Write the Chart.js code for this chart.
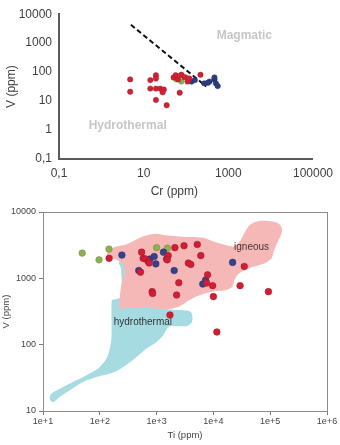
<!DOCTYPE html>
<html>
<head>
<meta charset="utf-8">
<script src="https://cdn.jsdelivr.net/npm/chart.js@4.4.0/dist/chart.umd.min.js"></script>
<style>
body { margin:0; background:#fff; width:340px; height:445px; overflow:hidden; }
canvas { display:block; }
</style>
</head>
<body>
<canvas id="top" width="340" height="200"></canvas>
<canvas id="bottom" width="340" height="245"></canvas>
<script>
// ---- top chart: Cr vs V ----
var crRed = [4.8, 4.8, 14.4, 14.4, 19.5, 19.5, 19.5, 24.5, 30, 28, 19.5, 35, 71, 220, 51, 57, 78, 92, 109, 120, 65]
var vRedTop = [56, 21, 53, 27, 78, 60, 27, 27, 25, 20, 11, 7.2, 19.5, 81, 65, 78, 81, 67, 47, 60, 56]
var crGreen = [59, 78, 100, 70]
var vGreenTop = [56, 47, 65, 75]
var crBlue = [135, 162, 270, 360, 470, 510, 560, 470, 330]
var vBlueTop = [47, 53, 41, 47, 56, 41, 33, 65, 43]
var dashCr = [5, 300]
var dashV = [4300, 32]
var crTicks = [0.1, 10, 1000, 100000]
var vTicksTop = [0.1, 1, 10, 100, 1000, 10000]

// ---- bottom chart: Ti vs V ----
var tiRed = [146, 545, 580, 645, 710, 740, 520, 1600, 1540, 2100, 3040, 5200, 6000, 3620, 4000, 2460, 835, 850, 2250, 7900, 7600, 9700, 10000, 29500, 35000, 93000, 1720, 11500]
var vRed = [2000, 2480, 2000, 1950, 1790, 1700, 1240, 2200, 1900, 2900, 3100, 3240, 2200, 1700, 1620, 860, 630, 590, 560, 1130, 850, 775, 530, 775, 1510, 630, 280, 155]
var tiBlue = [245, 485, 760, 905, 970, 1320, 1500, 2040, 6500, 7300, 21800]
var vBlue = [2240, 1310, 1950, 2130, 1650, 2480, 1950, 1310, 820, 945, 1740]
var tiGreen = [49, 145, 97, 1000, 1550]
var vGreen = [2400, 2760, 1900, 2900, 2850]
var igneousTi = [138,169,225,299,398,508,674,972,1460,2910,5140,7110,9840,13600,18100,23100,29400,36100,44200,61200,99600,143000,162000,150000,132000,115000,106000,88200,69200,49900,36100,28300,24000,21300,16700,11600,8710,6560,4740,3560,2570,1720,1140,762,508,338,225,225,239,276,255,200,150,133,138]
var igneousV = [2510,2880,3090,3260,3680,4090,4460,4700,4460,4230,4160,4020,3620,3310,3090,3040,3620,5040,6420,7260,7260,6650,5400,4230,3370,2510,2000,1770,1620,1490,1340,1190,980,741,668,645,623,581,523,455,382,344,344,363,369,369,351,505,794,1250,1600,1900,2040,2260,2510]
var hydroTi = [163,234,244,234,216,265,338,367,431,762,1400,2100,3380,4140,4190,3420,1940,1580,1310,1000,667,444,316,184,87.5,50.7,29.6,19.7,15,13.1,14.1,19.7,33.8,58.2,93.3,131,150,161,161,161,163]
var hydroV = [471,523,794,1440,1770,1830,1540,794,440,382,344,333,327,300,219,191,191,182,139,110,87.7,65.3,52,38.7,32.6,27.4,20.5,16.2,13.6,15.3,18.3,21.7,27.4,34.6,43.6,61.8,87.7,131,264,420,471]
var tiTicks = [10, 100, 1000, 10000, 100000, 1000000]
var vTicks = [10, 100, 1000, 10000]

var FONT = "'Liberation Sans', Arial, sans-serif"

function pairs(xs, ys){
	return xs.map(function(x, i){ return {x: x, y: ys[i]} })
}
function setTicks(list){
	return function(scale){ scale.ticks = list.map(function(v){ return {value: v} }) }
}
function commaLabel(v){
	return v < 1 ? '0,1' : String(v)
}
function expLabel(v){
	return '1e+' + Math.round(Math.log10(v))
}

// labels placed in data units
function textPlugin(id, items){
	return {
		id: id,
		beforeDatasetsDraw: function(chart){
			var ctx = chart.ctx
			ctx.save()
			ctx.textAlign = 'center'
			ctx.textBaseline = 'middle'
			items.forEach(function(t){
				ctx.font = t.font
				ctx.fillStyle = t.color
				ctx.fillText(t.text, chart.scales.x.getPixelForValue(t.x), chart.scales.y.getPixelForValue(t.y))
			})
			ctx.restore()
		}
	}
}

var framePlugin = {
	id: 'frame',
	afterDraw: function(chart){
		var a = chart.chartArea, ctx = chart.ctx
		ctx.save()
		ctx.strokeStyle = '#8c8c8c'
		ctx.lineWidth = 1
		ctx.strokeRect(Math.round(a.left) + 0.5, Math.round(a.top) + 0.5, Math.round(a.right - a.left), Math.round(a.bottom - a.top))
		ctx.restore()
	}
}

new Chart(document.getElementById('top'), {
	type: 'scatter',
	data: {
		datasets: [
			{ data: pairs(crRed, vRedTop), backgroundColor: '#cf2233', borderColor: '#a91a2a', borderWidth: 0.5, pointRadius: 2.7 },
			{ data: pairs(crGreen, vGreenTop), backgroundColor: '#7fb257', borderColor: '#6a9a45', borderWidth: 0.5, pointRadius: 2.7 },
			{ data: pairs(crBlue, vBlueTop), backgroundColor: '#2c3d7e', borderColor: '#1f2d66', borderWidth: 0.5, pointRadius: 2.7 },
			{ data: pairs(dashCr, dashV), showLine: true, borderColor: '#111', borderWidth: 2, borderDash: [5, 3], pointRadius: 0 }
		]
	},
	options: {
		responsive: false,
		animation: false,
		events: [],
		layout: { padding: { top: 11, right: 22, left: 0, bottom: 0 } },
		plugins: { legend: { display: false }, tooltip: { enabled: false } },
		scales: {
			x: {
				type: 'logarithmic', min: 0.1, max: 100000,
				grid: { display: false, drawTicks: false },
				border: { display: true, color: '#5a5a5a', width: 2 },
				afterBuildTicks: setTicks(crTicks),
				afterFit: function(s){ s.height = 41 },
				ticks: { padding: 7, color: '#404040', font: { family: FONT, size: 12 }, maxRotation: 0, autoSkip: false, callback: commaLabel },
				title: { display: true, text: 'Cr (ppm)       ', color: '#404040', font: { family: FONT, size: 12 }, padding: { top: 0, bottom: 1 } }
			},
			y: {
				type: 'logarithmic', min: 0.1, max: 10000,
				grid: { display: false, drawTicks: false },
				border: { display: true, color: '#5a5a5a', width: 2 },
				afterBuildTicks: setTicks(vTicksTop),
				afterFit: function(s){ s.width = 59 },
				ticks: { padding: 7, color: '#404040', font: { family: FONT, size: 12 }, autoSkip: false, callback: commaLabel },
				title: { display: true, text: 'V (ppm)', color: '#404040', font: { family: FONT, size: 12 }, padding: { top: 4, bottom: 0 } }
			}
		}
	},
	plugins: [textPlugin('topText', [
		{ text: 'Magmatic', x: 2390, y: 1780, font: 'bold 12px ' + FONT, color: '#c6c6c6' },
		{ text: 'Hydrothermal', x: 4.2, y: 1.4, font: 'bold 12px ' + FONT, color: '#c6c6c6' }
	])]
})

new Chart(document.getElementById('bottom'), {
	type: 'scatter',
	data: {
		datasets: [
			{ data: pairs(tiRed, vRed), backgroundColor: '#d01f34', borderColor: '#a8182a', borderWidth: 0.6, pointRadius: 3.3 },
			{ data: pairs(tiBlue, vBlue), backgroundColor: '#36428c', borderColor: '#283270', borderWidth: 0.6, pointRadius: 3.3 },
			{ data: pairs(tiGreen, vGreen), backgroundColor: '#8fae52', borderColor: '#7a9842', borderWidth: 0.6, pointRadius: 3.3 },
			{ data: pairs(igneousTi, igneousV), showLine: true, fill: 'shape', backgroundColor: '#f5b8b6', borderWidth: 0, pointRadius: 0, tension: 0.3 },
			{ data: pairs(hydroTi, hydroV), showLine: true, fill: 'shape', backgroundColor: '#a7dbe2', borderWidth: 0, pointRadius: 0, tension: 0.3 }
		]
	},
	options: {
		responsive: false,
		animation: false,
		events: [],
		layout: { padding: { top: 12, right: 13, left: 0, bottom: 0 } },
		plugins: { legend: { display: false }, tooltip: { enabled: false }, filler: { drawTime: 'beforeDraw' } },
		scales: {
			x: {
				type: 'logarithmic', min: 10, max: 1000000,
				grid: { display: true, drawOnChartArea: false, drawTicks: true, tickLength: 4, color: '#7a7a7a' },
				border: { display: true, color: '#7a7a7a', width: 1 },
				afterBuildTicks: setTicks(tiTicks),
				afterFit: function(s){ s.height = 34 },
				ticks: { padding: 1, color: '#444', font: { family: FONT, size: 9 }, maxRotation: 0, autoSkip: false, callback: expLabel },
				title: { display: true, text: 'Ti (ppm)', color: '#444', font: { family: FONT, size: 9.5 }, padding: { top: 0, bottom: 4 } }
			},
			y: {
				type: 'logarithmic', min: 10, max: 10000,
				grid: { display: true, drawOnChartArea: false, drawTicks: true, tickLength: 4, color: '#7a7a7a' },
				border: { display: true, color: '#7a7a7a', width: 1 },
				afterBuildTicks: setTicks(vTicks),
				afterFit: function(s){ s.width = 43 },
				ticks: { padding: 3, color: '#444', font: { family: FONT, size: 9 }, autoSkip: false, callback: function(v){ return String(v) } },
				title: { display: true, text: 'V (ppm)', color: '#444', font: { family: FONT, size: 9.5 }, padding: { top: 1, bottom: 0 } }
			}
		}
	},
	plugins: [framePlugin, textPlugin('bottomText', [
		{ text: 'igneous', x: 47000, y: 2900, font: '10px ' + FONT, color: '#4a3232' },
		{ text: 'hydrothermal', x: 573, y: 217, font: '10px ' + FONT, color: '#333' }
	])]
})
</script>
</body>
</html>
